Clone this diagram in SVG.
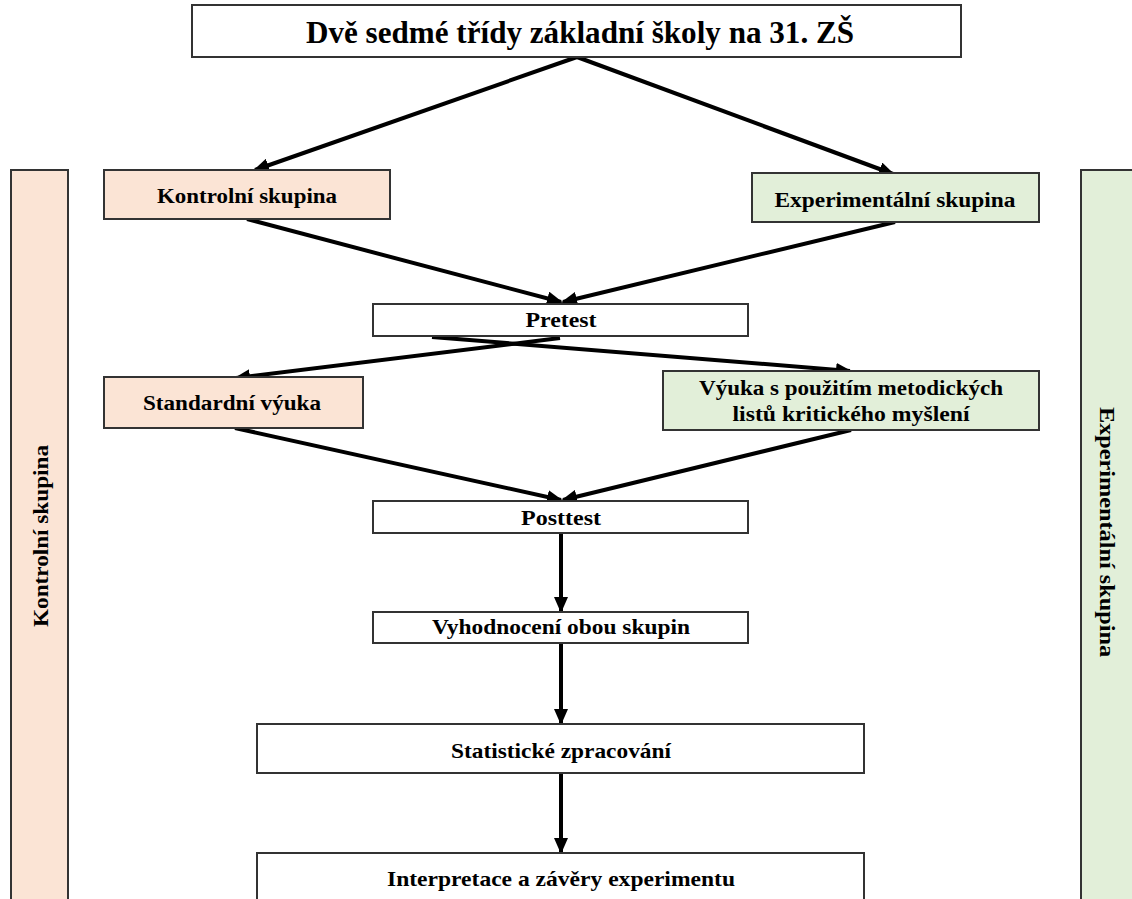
<svg xmlns="http://www.w3.org/2000/svg" width="1132" height="899" viewBox="0 0 1132 899">
<style>
.box{stroke:#333;stroke-width:2}
.w{fill:#fff}
.k{fill:#fbe4d5}
.e{fill:#e2efd9}
.t{font-family:"Liberation Serif","DejaVu Serif",serif;font-weight:bold;fill:#000;text-anchor:middle}
.c{stroke:#000;stroke-width:4;fill:none;marker-end:url(#ah)}
</style>
<defs>
<marker id="ah" markerUnits="userSpaceOnUse" markerWidth="16" markerHeight="14" refX="14" refY="7" orient="auto">
<path d="M0,0 L16,7 L0,14 Z" fill="#000"/>
</marker>
</defs>
<rect width="1132" height="899" fill="#fff"/>
<g id="side-kontrolni">
<rect class="box k" x="11" y="170" width="57" height="740"/>
<text class="t" font-size="21" transform="translate(48,536) rotate(-90)" textLength="182" lengthAdjust="spacingAndGlyphs">Kontrolní skupina</text>
</g>
<g id="side-experimentalni">
<rect class="box e" x="1081" y="170" width="60" height="740"/>
<text class="t" font-size="21" transform="translate(1100,532) rotate(90)" textLength="250" lengthAdjust="spacingAndGlyphs">Experimentální skupina</text>
</g>
<g id="connectors">
<line class="c" x1="577" y1="57" x2="255" y2="170"/>
<line class="c" x1="577" y1="57" x2="893" y2="174"/>
<line class="c" x1="247" y1="219" x2="561" y2="302"/>
<line class="c" x1="895" y1="222" x2="563" y2="302"/>
<line class="c" x1="560" y1="338" x2="236" y2="378"/>
<line class="c" x1="432" y1="337" x2="850" y2="371"/>
<line class="c" x1="235" y1="428" x2="561" y2="500"/>
<line class="c" x1="851" y1="430" x2="563" y2="500"/>
<line class="c" x1="561" y1="533" x2="561" y2="611"/>
<line class="c" x1="561" y1="643" x2="561" y2="723"/>
<line class="c" x1="561" y1="773" x2="561" y2="852"/>
</g>
<g id="title">
<rect class="box w" x="192" y="5" width="769" height="52"/>
<text class="t" font-size="31" x="580" y="43" textLength="548" lengthAdjust="spacingAndGlyphs">Dvě sedmé třídy základní školy na 31. ZŠ</text>
</g>
<g id="kontrolni">
<rect class="box k" x="104" y="170" width="286" height="49"/>
<text class="t" font-size="20" x="247" y="203" textLength="180" lengthAdjust="spacingAndGlyphs">Kontrolní skupina</text>
</g>
<g id="experimentalni">
<rect class="box e" x="752" y="173" width="287" height="49"/>
<text class="t" font-size="20" x="895" y="207" textLength="241" lengthAdjust="spacingAndGlyphs">Experimentální skupina</text>
</g>
<g id="pretest">
<rect class="box w" x="373" y="304" width="375" height="32"/>
<text class="t" font-size="20" x="561" y="327" textLength="71" lengthAdjust="spacingAndGlyphs">Pretest</text>
</g>
<g id="standardni">
<rect class="box k" x="104" y="377" width="259" height="51"/>
<text class="t" font-size="20" x="232" y="410" textLength="178" lengthAdjust="spacingAndGlyphs">Standardní výuka</text>
</g>
<g id="vyuka">
<rect class="box e" x="663" y="371" width="376" height="59"/>
<text class="t" font-size="20" x="851" y="395" textLength="304" lengthAdjust="spacingAndGlyphs">Výuka s použitím metodických</text>
<text class="t" font-size="20" x="851" y="421" textLength="237" lengthAdjust="spacingAndGlyphs">listů kritického myšlení</text>
</g>
<g id="posttest">
<rect class="box w" x="373" y="501" width="375" height="32"/>
<text class="t" font-size="21" x="561" y="525" textLength="80" lengthAdjust="spacingAndGlyphs">Posttest</text>
</g>
<g id="vyhodnoceni">
<rect class="box w" x="373" y="612" width="375" height="31"/>
<text class="t" font-size="20" x="561" y="634" textLength="258" lengthAdjust="spacingAndGlyphs">Vyhodnocení obou skupin</text>
</g>
<g id="statisticke">
<rect class="box w" x="257" y="724" width="607" height="49"/>
<text class="t" font-size="22" x="561" y="758" textLength="220" lengthAdjust="spacingAndGlyphs">Statistické zpracování</text>
</g>
<g id="interpretace">
<rect class="box w" x="257" y="853" width="607" height="60"/>
<text class="t" font-size="22" x="561" y="886" textLength="348" lengthAdjust="spacingAndGlyphs">Interpretace a závěry experimentu</text>
</g>
</svg>
